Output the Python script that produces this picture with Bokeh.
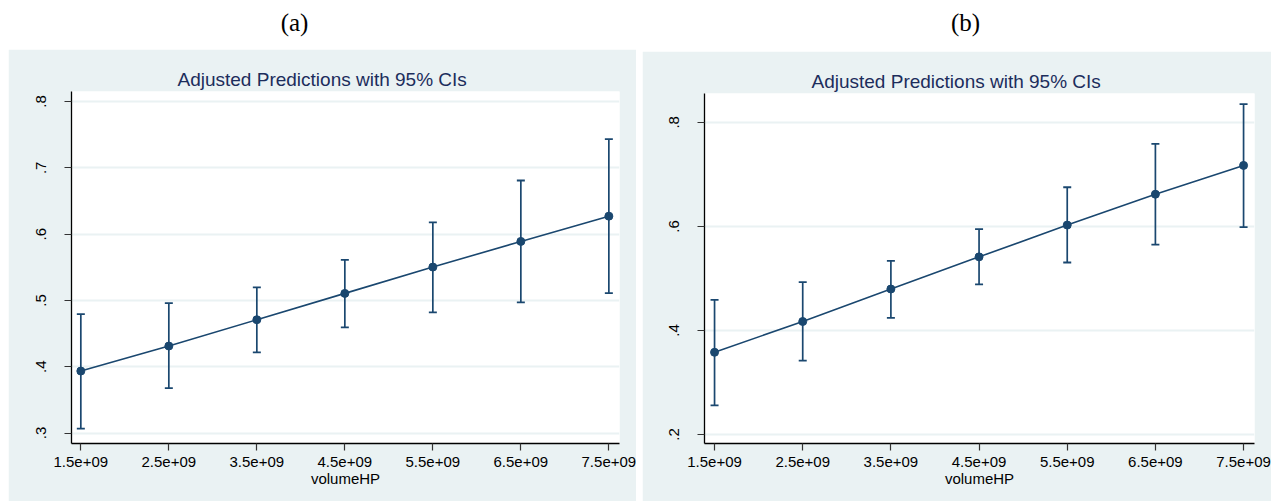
from bokeh.plotting import figure
from bokeh.layouts import column, row
from bokeh.models import (ColumnDataSource, Whisker, TeeHead, FixedTicker,
                          CustomJSTickFormatter, Range1d, Title)
from bokeh.core.properties import value
from bokeh.embed import file_html
from bokeh.resources import INLINE

# ---------------- data ----------------
volume_hp = [1.5e9, 2.5e9, 3.5e9, 4.5e9, 5.5e9, 6.5e9, 7.5e9]

# panel (a)
pred_a = [0.3935, 0.4312, 0.4709, 0.5106, 0.5503, 0.5890, 0.6271]
lower_a = [0.3065, 0.3678, 0.4216, 0.4593, 0.4819, 0.4970, 0.5110]
upper_a = [0.4794, 0.4960, 0.5196, 0.5613, 0.6176, 0.6809, 0.7432]

# panel (b)
pred_b = [0.3580, 0.4172, 0.4796, 0.5414, 0.6025, 0.6618, 0.7172]
lower_b = [0.2560, 0.3420, 0.4242, 0.4885, 0.5306, 0.5650, 0.5987]
upper_b = [0.4586, 0.4930, 0.5338, 0.5949, 0.6752, 0.7586, 0.8350]

yticks_a = [0.3, 0.4, 0.5, 0.6, 0.7, 0.8]
yticks_b = [0.2, 0.4, 0.6, 0.8]

panel_labels = ["(a)", "(b)"]
title_text = "Adjusted Predictions with 95% CIs"
x_label = "volumeHP"

# ---------------- style ----------------
NAVY = "#1a476f"
BG = "#eaf2f3"
TITLE_COL = "#1c2d5c"
FONT = "Liberation Sans"

yfmt = CustomJSTickFormatter(code="return tick.toFixed(1).replace(/^0/, '');")
xfmt = CustomJSTickFormatter(code="return (tick/1e9).toFixed(1) + 'e+09';")


def panel(pred, lower, upper, yticks, xr, yr, w, h, mb, title_offset, margin):
    left, right, top, bottom = mb
    p = figure(width=w, height=h, output_backend="svg", toolbar_location=None,
               x_range=Range1d(*xr), y_range=Range1d(*yr),
               min_border_left=left, min_border_right=right,
               min_border_top=top, min_border_bottom=bottom,
               background_fill_color="white", border_fill_color=BG,
               outline_line_color=None, margin=margin)
    t = Title(text=title_text, align="left", offset=title_offset,
              text_font=FONT, text_font_size="19px", text_font_style="normal",
              text_color=TITLE_COL, standoff=4)
    p.add_layout(t, "above")

    src = ColumnDataSource(dict(x=volume_hp, y=pred, lo=lower, hi=upper))
    wh = Whisker(source=src, base="x", lower="lo", upper="hi",
                 line_color=NAVY, line_width=1.7,
                 upper_head=TeeHead(size=8, line_color=NAVY, line_width=1.8),
                 lower_head=TeeHead(size=8, line_color=NAVY, line_width=1.8))
    p.add_layout(wh)
    p.line("x", "y", source=src, line_color=NAVY, line_width=1.6)
    p.scatter("x", "y", source=src, size=8, fill_color=NAVY, line_color=NAVY)

    p.xaxis.ticker = FixedTicker(ticks=volume_hp)
    p.xaxis.formatter = xfmt
    p.yaxis.ticker = FixedTicker(ticks=yticks)
    p.yaxis.formatter = yfmt
    p.yaxis.major_label_orientation = "vertical"
    for ax in (p.xaxis, p.yaxis):
        ax.axis_line_color = "black"
        ax.axis_line_width = 1.3
        ax.major_tick_line_color = "#333333"
        ax.major_tick_line_width = 1.2
        ax.major_tick_out = 7
        ax.major_tick_in = 0
        ax.minor_tick_line_color = None
        ax.major_label_text_font = FONT
        ax.major_label_text_font_size = "15px"
        ax.major_label_text_color = "black"
    p.xaxis.major_label_standoff = 6
    p.yaxis.major_label_standoff = 18
    p.xaxis.axis_label = x_label
    p.xaxis.axis_label_text_font = FONT
    p.xaxis.axis_label_text_font_size = "15px"
    p.xaxis.axis_label_text_font_style = "normal"
    p.xaxis.axis_label_text_color = "black"
    p.xaxis.axis_label_standoff = 0
    p.xgrid.grid_line_color = None
    p.ygrid.grid_line_color = BG
    p.ygrid.grid_line_width = 2
    return p


pa = panel(pred_a, lower_a, upper_a, yticks_a,
           (1.394e9, 7.621e9), (0.2842, 0.8151),
           628, 452, (63, 17, 42, 58), 106, (0, 0, 0, 8))
pb = panel(pred_b, lower_b, upper_b, yticks_b,
           (1.386e9, 7.624e9), (0.1827, 0.8554),
           629, 450, (62, 17, 42, 56), 107, (2, 0, 0, 6))

top = figure(width=1281, height=49, output_backend="svg", toolbar_location=None,
             x_range=Range1d(0, 1281), y_range=Range1d(49, 0),
             x_axis_type=None, y_axis_type=None, min_border=0,
             outline_line_color=None, background_fill_color="white",
             border_fill_color="white")
top.grid.grid_line_color = None
top.text(x=[294, 965], y=[22, 22], text=panel_labels,
         text_font=value("Liberation Serif"), text_font_size="25px",
         text_align="center", text_baseline="middle", text_color="black")

layout = column(top, row(pa, pb))
open("out.html", "w").write(file_html(layout, INLINE))
